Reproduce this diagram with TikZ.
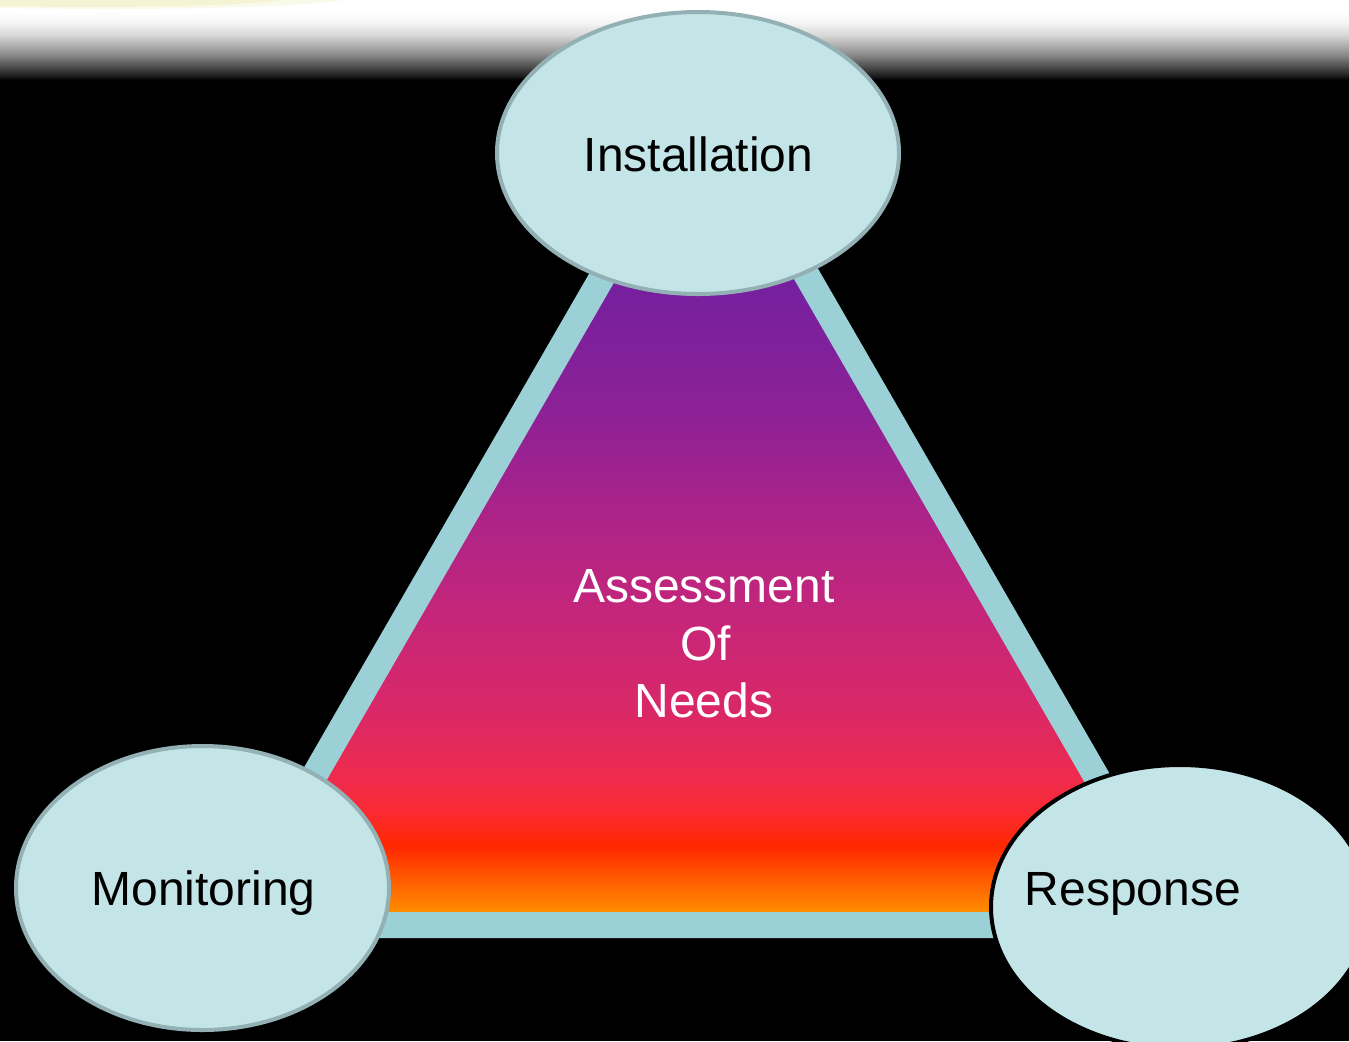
\documentclass[tikz,border=0pt]{standalone}
\usepackage{fontspec}
\setmainfont{Liberation Sans}
\usetikzlibrary{shapes.geometric}
\definecolor{ovalfill}{HTML}{C4E5E7}
\definecolor{ovalline}{HTML}{93B0B4}
\definecolor{triborder}{HTML}{9BD1D6}
\definecolor{glowA}{HTML}{F4F4D4}
\definecolor{glowB}{HTML}{FAFAEA}
\definecolor{gA}{HTML}{202020}
\definecolor{gB}{HTML}{555555}
\definecolor{gC}{HTML}{888888}
\definecolor{gD}{HTML}{B0B0B0}
\definecolor{gE}{HTML}{D8D8D8}
\definecolor{gF}{HTML}{F5F5F5}
\definecolor{tA}{HTML}{FF8C00}
\definecolor{tB}{HTML}{FF7400}
\definecolor{tC}{HTML}{FF5000}
\definecolor{tD}{HTML}{FF2800}
\definecolor{tE}{HTML}{FA2A30}
\definecolor{tF}{HTML}{EF2B4C}
\definecolor{tG}{HTML}{DA2866}
\definecolor{tH}{HTML}{C5267A}
\definecolor{tI}{HTML}{AC2388}
\definecolor{tJ}{HTML}{8D2196}
\definecolor{tK}{HTML}{76209F}
\pgfdeclareverticalshading{bandshade}{100bp}{color(0bp)=(black); color(25bp)=(black); color(28bp)=(gA); color(34.4bp)=(gB); color(40.6bp)=(gC); color(46.9bp)=(gD); color(53.1bp)=(gE); color(61bp)=(gF); color(67.5bp)=(white); color(100bp)=(white)}
\pgfdeclareverticalshading{trishade}{100bp}{color(0bp)=(tA); color(25.8bp)=(tA); color(26.8bp)=(tB); color(28.2bp)=(tC); color(29.8bp)=(tD); color(31.8bp)=(tE); color(33.8bp)=(tF); color(37.8bp)=(tG); color(43.8bp)=(tH); color(49.9bp)=(tI); color(55.9bp)=(tJ); color(63.7bp)=(tK); color(100bp)=(tK)}
\tikzset{
  oval/.style={ellipse, fill=ovalfill, draw=ovalline, line width=2pt, inner sep=0pt},
  ovaltext/.style={anchor=base, font=\fontsize{24}{28.8}\selectfont, text=black, inner sep=0pt},
  centertext/.style={anchor=base, font=\fontsize{24}{28.8}\selectfont, text=white, inner sep=0pt},
}
\begin{document}
\begin{tikzpicture}[x=0.5pt, y=-0.5pt]
\clip (0,0) rectangle (1349,1041);
\fill[black] (0,0) rectangle (1349,1041);
% top band
\shade[shading=bandshade] (0,0) rectangle (1349,80);
\fill[glowB] (110,-3) ellipse [x radius=240, y radius=12];
\fill[glowA] (90,-3) ellipse [x radius=200, y radius=10];
% triangle
\path[shade, shading=trishade, draw=triborder, line width=13pt, line join=miter]
  (228,925) -- (705,99) -- (1182,925) -- cycle;
% ovals
\node[oval, minimum width=201pt, minimum height=141pt] (inst) at (698,153) {};
\node[oval, minimum width=186.5pt, minimum height=142pt] (moni) at (202.5,888) {};
\node[oval, draw=black, line width=2pt, minimum width=189pt, minimum height=142pt] (resp) at (1180,907) {};
% texts
\node[ovaltext] (instlabel) at (698.5,171) {Installation};
\node[ovaltext] (monilabel) at (203.5,905) {Monitoring};
\node[ovaltext] (resplabel) at (1133,905) {Response};
\node[centertext] (assessA) at (704,602) {Assessment};
\node[centertext] (assessB) at (705.5,660) {Of};
\node[centertext] (assessC) at (704,717) {Needs};
\end{tikzpicture}
\end{document}
